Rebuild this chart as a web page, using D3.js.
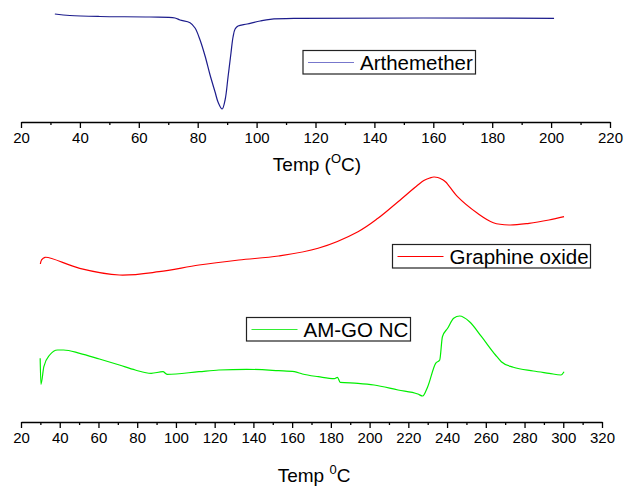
<!DOCTYPE html>
<html>
<head>
<meta charset="utf-8">
<script src="https://cdn.jsdelivr.net/npm/d3@7"></script>
<style>
  body { margin: 0; background: #fff; }
  svg text { font-family: 'Liberation Sans', Arial, sans-serif; fill: #000; }
</style>
</head>
<body>
<svg id="canvas" width="624" height="486"></svg>
<script>
// Arthemether DSC (temp in C, heat flow in arb. units)
const amTemp = [31.5, 36.6, 46.8, 63.8, 72.3, 74.0, 77.4, 79.1, 80.8, 82.5, 84.2, 85.9, 86.9, 88.3,
  89.3, 90.3, 91.3, 92.0, 92.7, 93.7, 96.8, 101.2, 104.6, 114.7, 201.0];
const amFlow = [0.40, 0.25, 0.15, 0.10, 0.0, -0.2, -0.47, -1.0, -2.2, -3.8, -5.7, -7.4, -8.4, -9.1,
  -8.2, -5.9, -3.5, -1.9, -1.1, -0.8, -0.6, -0.3, -0.13, -0.03, -0.03];

// Graphine oxide
const goTemp = [30.0, 30.6, 32.4, 50.3, 70.8, 91.3, 111.9, 132.5, 153, 173.4, 194, 204.3, 214.7,
  224.9, 228, 231.1, 233.2, 235.2, 237.5, 239.3, 245.4, 255.7, 263.9, 272, 282.3, 292.6, 300.4];
const goFlow = [1.6, 2.0, 2.27, 1.17, 0.5, 0.83, 1.5, 2.0, 2.4, 3.17, 4.83, 6.17, 7.83,
  9.5, 9.95, 10.2, 10.3, 10.25, 10.05, 9.8, 8.33, 6.67, 5.73, 5.5, 5.67, 6.0, 6.33];

// AM-GO NC
const ncTemp = [29.9, 30.3, 31.8, 34.8, 38.9, 42, 50.3, 60.5, 70.8, 79, 87.2, 93.3, 95.4, 111.9,
  122.2, 136.5, 153, 161.2, 165.3, 173.5, 181.8, 183.4, 184.8, 194, 202.3, 214.7, 224.9, 227.4,
  230, 234.1, 236.2, 237.6, 240.3, 243.4, 246.5, 251.6, 257.8, 265, 268, 274.2, 284.5, 292.7,
  298.8, 300.4];
const ncFlow = [4.17, 1.57, 3.33, 4.5, 5.0, 5.0, 4.67, 4.1, 3.5, 3.0, 2.67, 2.83, 2.57, 2.83,
  3.0, 3.07, 2.93, 2.83, 2.6, 2.33, 2.13, 2.27, 1.77, 1.67, 1.5, 1.0, 0.6, 0.4,
  1.33, 3.67, 4.0, 6.33, 7.17, 8.17, 8.4, 7.83, 6.33, 4.5, 3.83, 3.27, 2.9, 2.67,
  2.5, 2.83];

const topTicks = d3.range(20, 221, 20);
const botTicks = d3.range(20, 321, 20);

const svg = d3.select('#canvas');

const xTop = d3.scaleLinear().domain([20, 220]).range([21, 610]);
const xBot = d3.scaleLinear().domain([20, 320]).range([21, 602]);
const yTop = d3.scaleLinear().domain([0, -10]).range([18, 118]);
const yMid = d3.scaleLinear().domain([0, 10]).range([280, 180]);
const yBot = d3.scaleLinear().domain([0, 10]).range([400, 300]);

let drawAxis = (x, ypos, ticks) => {
  let minor = ticks.slice(0, -1).map((t) => t + 10);
  let g = svg.append('g').attr('transform', 'translate(0,' + ypos + ')');
  g.append('g')
    .call(d3.axisBottom(x).tickValues(minor).tickSize(3).tickFormat(''))
    .call((s) => s.select('.domain').remove());
  let major = g.append('g')
    .call(d3.axisBottom(x).tickValues(ticks).tickSize(6).tickSizeOuter(0).tickPadding(4));
  major.selectAll('text').attr('font-size', 15).attr('font-family', "'Liberation Sans', Arial, sans-serif");
  g.selectAll('line').attr('stroke', '#000').attr('stroke-width', 1.3);
  g.selectAll('.domain').attr('stroke', '#000').attr('stroke-width', 1.5);
};

let drawCurve = (x, y, temps, flows, color, curve) => {
  let pts = temps.map((t, i) => [t, flows[i]]);
  svg.append('path')
    .datum(pts)
    .attr('fill', 'none')
    .attr('stroke', color)
    .attr('stroke-width', 1.2)
    .attr('d', d3.line().x((d) => x(d[0])).y((d) => y(d[1])).curve(curve));
};

let drawLegend = (x0, y0, w, label, color) => {
  let g = svg.append('g').attr('transform', 'translate(' + x0 + ',' + y0 + ')');
  g.append('rect').attr('width', w).attr('height', 23.5)
    .attr('fill', '#fff').attr('stroke', '#222').attr('stroke-width', 1.2);
  g.append('line').attr('x1', 5).attr('x2', 51).attr('y1', 12).attr('y2', 12)
    .attr('stroke', color).attr('stroke-width', 1.2);
  g.append('text').attr('x', 57).attr('y', 19.5).attr('font-size', 20.5).text(label);
};

drawAxis(xTop, 122, topTicks);
drawAxis(xBot, 422, botTicks);

drawCurve(xTop, yTop, amTemp, amFlow, '#1c1c8c', d3.curveCatmullRom.alpha(0.5));
drawCurve(xBot, yMid, goTemp, goFlow, '#ff0000', d3.curveCatmullRom.alpha(0.5));
drawCurve(xBot, yBot, ncTemp, ncFlow, '#00ee00', d3.curveMonotoneX);

drawLegend(303, 50.5, 172.5, 'Arthemether', '#7777cc');
drawLegend(392.5, 244.5, 198, 'Graphine oxide', '#ff0000');
drawLegend(246.5, 317.5, 164, 'AM-GO NC', '#33ee33');

// axis titles
let t1 = svg.append('text').attr('x', 317).attr('y', 171).attr('text-anchor', 'middle').attr('font-size', 19);
t1.append('tspan').text('Temp (');
t1.append('tspan').attr('font-size', 13).attr('dy', -8).text('O');
t1.append('tspan').attr('dy', 8).text('C)');

let t2 = svg.append('text').attr('x', 314).attr('y', 482).attr('text-anchor', 'middle').attr('font-size', 19);
t2.append('tspan').text('Temp ');
t2.append('tspan').attr('font-size', 13).attr('dy', -8).text('0');
t2.append('tspan').attr('dy', 8).text('C');
</script>
</body>
</html>
